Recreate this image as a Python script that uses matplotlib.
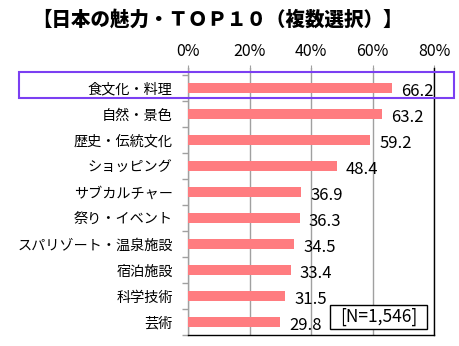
import matplotlib
matplotlib.use("Agg")
import matplotlib.pyplot as plt
from matplotlib.patches import Rectangle

plt.rcParams['font.family'] = ['Noto Sans CJK JP', 'DejaVu Sans']

# data
categories = ["食文化・料理", "自然・景色", "歴史・伝統文化", "ショッピング", "サブカルチャー",
              "祭り・イベント", "スパリゾート・温泉施設", "宿泊施設", "科学技術", "芸術"]
values = [66.2, 63.2, 59.2, 48.4, 36.9, 36.3, 34.5, 33.4, 31.5, 29.8]
xticks = [0, 20, 40, 60, 80]
title = "【日本の魅力・ＴＯＰ１０（複数選択）】"
note = "[N=1,546]"

W, H = 460, 346
fig = plt.figure(figsize=(W / 100, H / 100), dpi=100)
ax = fig.add_axes([188 / W, 1 - 335 / H, 246 / W, 267 / H])

ypos = list(range(len(categories)))
ax.barh(ypos, values, height=0.4, color="#FF7C80", zorder=3)

for y, v in zip(ypos, values):
    ax.text(v + 3.0, y + 0.14, f"{v:.1f}", va="center", ha="left", fontsize=12, zorder=4)

ax.set_xlim(0, 80)
ax.set_ylim(9.5, -0.77)
ax.set_xticks(xticks)
ax.set_xticklabels([f"{t}%" for t in xticks], fontsize=11.5)
ax.xaxis.tick_top()
ax.tick_params(axis="x", length=2, pad=4, color="#A0A0A0")
ax.xaxis.grid(True, color="#A0A0A0", linewidth=1, zorder=0)

ax.set_yticks(ypos)
ax.set_yticklabels(categories, fontsize=10.2)
ax.set_yticks([y - 0.5 for y in ypos] + [9.5], minor=True)
ax.tick_params(axis="y", which="major", length=0, pad=11)
ax.tick_params(axis="y", which="minor", length=4, color="#A0A0A0", width=1)

ax.spines["top"].set_visible(False)
ax.spines["left"].set_color("#A0A0A0")
ax.spines["right"].set_color("black")
ax.spines["bottom"].set_color("black")
for s in ax.spines.values():
    s.set_linewidth(1)

fig.text(217 / W, 1 - 20 / H, title, ha="center", va="center", fontsize=14, fontweight="heavy")

# highlight box around the top item
fig.add_artist(Rectangle((19 / W, 1 - 98 / H), 435 / W, 26 / H, transform=fig.transFigure,
                         fill=False, edgecolor="#7B3FF2", linewidth=1.5, zorder=5))

# sample size box
fig.add_artist(Rectangle((330 / W, 1 - 329 / H), 97 / W, 24 / H, transform=fig.transFigure,
                         facecolor="white", edgecolor="black", linewidth=1, zorder=5))
fig.text(378.5 / W, 1 - 317 / H, note, ha="center", va="center", fontsize=12.5, zorder=6)

fig.savefig("out.png", dpi=100)
